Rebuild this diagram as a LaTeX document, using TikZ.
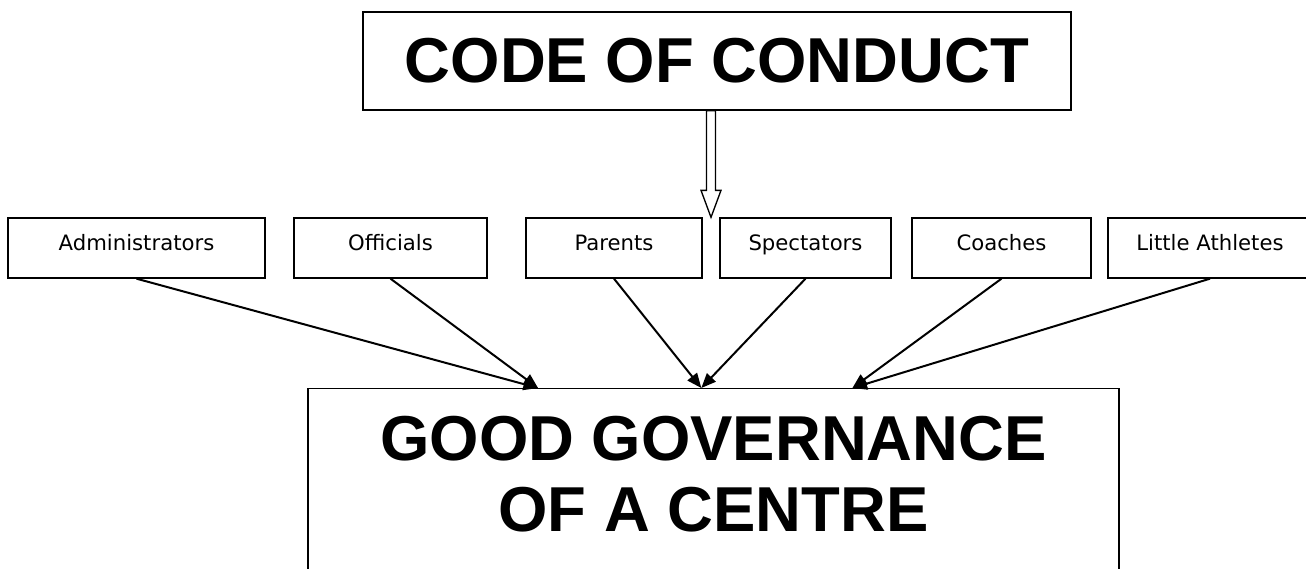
\documentclass[tikz,border=0pt]{standalone}
\usepackage{fontspec}
\setmainfont{Liberation Sans}
\newfontfamily\labelfont{DejaVu Sans}
\usetikzlibrary{arrows.meta,calc}

\begin{document}
\begin{tikzpicture}[x=0.75pt,y=0.75pt,
    titlebox/.style={draw,line width=1pt,minimum width=531pt,minimum height=73.5pt,inner sep=0pt,
        font=\fontsize{47.6}{53}\selectfont\bfseries},
    rolebox/.style={draw,line width=1pt,minimum height=45pt,inner sep=0pt,text height=12pt,text depth=8pt,
        font=\labelfont\fontsize{15.9}{19}\selectfont},
    govbox/.style={draw,line width=1pt,minimum width=608.25pt,inner sep=0pt,anchor=north,align=center,
        text height=107pt,text depth=70pt,font=\fontsize{47.6}{53}\selectfont\bfseries},
    feed/.style={line width=1.5pt,-{Triangle[length=11pt,width=9pt]}},
    hollow/.style={line width=1pt,line join=miter}]
            \useasboundingbox (0,0) rectangle (1306,-568);
            \node[titlebox] (code) at (717,-61) {CODE OF CONDUCT};
            \node[rolebox,minimum width=192.75pt] (admin) at (136.5,-248) {Administrators};
            \node[rolebox,minimum width=144.75pt] (officials) at (390.5,-248) {Officials};
            \node[rolebox,minimum width=132pt] (parents) at (614,-248) {Parents};
            \node[rolebox,minimum width=128.25pt] (spectators) at (805.5,-248) {Spectators};
            \node[rolebox,minimum width=134.25pt] (coaches) at (1001.5,-248) {Coaches};
            \node[rolebox,minimum width=153pt] (athletes) at (1210,-248) {Little Athletes};
            \node[govbox] (gov) at (713.5,-388) {GOOD GOVERNANCE\\OF A CENTRE};
            \coordinate (inL) at ($(gov.north west)!0.284!(gov.north east)$);
            \coordinate (inM) at ($(gov.north west)!0.485!(gov.north east)$);
            \coordinate (inR) at ($(gov.north west)!0.671!(gov.north east)$);
            \coordinate (gap) at ($(parents.north east)!0.5!(spectators.north west)$);
            \foreach \from/\to in {admin/inL,officials/inL,parents/inM,spectators/inM,coaches/inR,athletes/inR}
                \draw[feed] (\from.south) -- (\to);
            \draw[hollow] (gap) -- ++(-10,27) -- ++(5.5,0) -- ($(code.south -| gap)+(-4.5,0)$)
                -- ($(code.south -| gap)+(4.5,0)$) -- ($(gap)+(4.5,27)$) -- ++(5.5,0) -- cycle;
        \end{tikzpicture}
\end{document}
